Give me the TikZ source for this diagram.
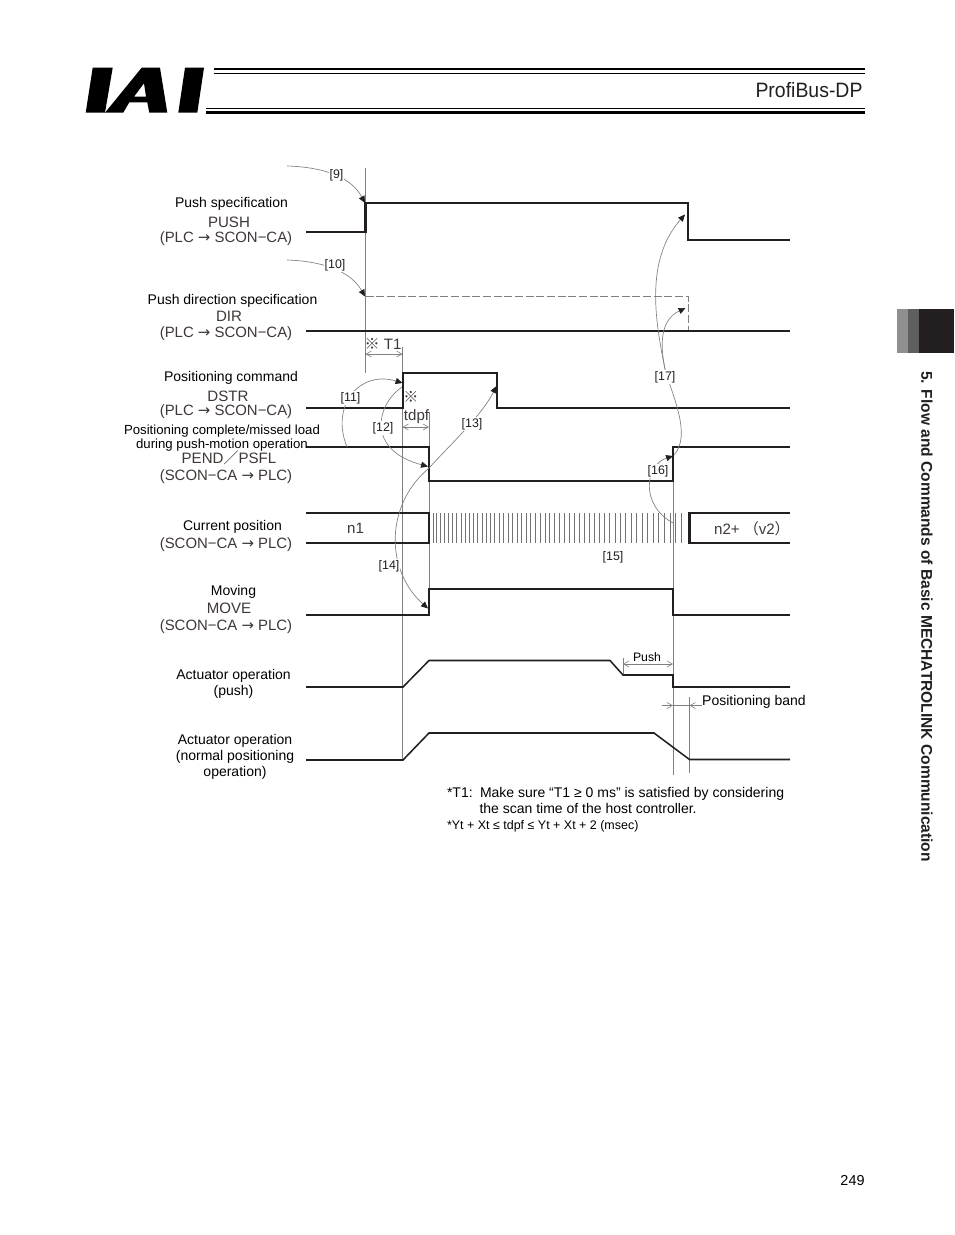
\documentclass[tikz,border=0pt]{standalone}
\usepackage{fontspec}
\setmainfont{Liberation Sans}
\newfontfamily\cjkf{Noto Sans CJK JP}
\newfontfamily\arrowf{DejaVu Sans}
\usetikzlibrary{arrows.meta}
\definecolor{ink}{HTML}{231F20}
\definecolor{sig}{HTML}{3E3836}
\definecolor{guide}{HTML}{808080}
\definecolor{tabone}{HTML}{8F8F8F}
\definecolor{tabtwo}{HTML}{5F5F5F}
\tikzset{
  x=0.75pt,y=-0.75pt,
  every node/.style={inner sep=0pt,outer sep=0pt,align=center,text=black},
  wave/.style={draw=ink,line width=2pt,line join=miter},
  flow/.style={draw=ink,line width=1.15pt,line join=miter},
  guideline/.style={draw=guide,line width=0.65pt},
  hatchline/.style={draw=guide!90!black,line width=0.7pt},
  curve/.style={draw=guide,line width=0.5pt},
  curvetip/.style={curve,-{Triangle[length=5.2pt,width=4.6pt,color=ink]}},
  dim/.style={draw=guide,line width=0.45pt,{Straight Barb[length=4pt,width=4.5pt]}-{Straight Barb[length=4pt,width=4.5pt]}},
  dimin/.style={draw=guide,line width=0.45pt,-{Straight Barb[length=4pt,width=4.5pt]}},
  body/.style={font=\fontsize{10.5}{12}\selectfont,yshift=-0.75pt},
  longbody/.style={font=\fontsize{9.9}{12}\selectfont,yshift=-0.75pt},
  signame/.style={font=\fontsize{11.3}{13}\selectfont,text=sig},
  siglink/.style={font=\fontsize{11.2}{13}\selectfont,text=sig,yshift=-0.75pt},
  tag/.style={font=\fontsize{9.3}{11}\selectfont,text=ink,fill=white,inner sep=0.8pt,yshift=-0.75pt},
  note/.style={font=\fontsize{10.5}{12}\selectfont,anchor=base west},
  small/.style={font=\fontsize{9.35}{11}\selectfont,anchor=base west},
}
\newcommand{\plcscon}{(PLC {\arrowf →} SCON−CA)}
\newcommand{\sconplc}{(SCON−CA {\arrowf →} PLC)}
\begin{document}
\begin{tikzpicture}
\useasboundingbox[fill=white] (0,0) rectangle (954,1235);

% header
\fill[black] (92.7,67.7) -- (112.7,67.7) -- (105,112.7) -- (85.7,112.7) -- cycle;
\fill[black,even odd rule] (105,112.7) -- (141.7,67.7) -- (160,67.7) -- (167.3,112.7) -- (149.3,112.7) -- (147.3,102.3) -- (129.3,102.3) -- (123.3,112.7) -- cycle
   (144,83.3) -- (134,96.7) -- (146,96.7) -- cycle;
\fill[black] (185,67.7) -- (204,67.7) -- (197.3,112.7) -- (178.3,112.7) -- cycle;
\fill[black] (214,67.6) rectangle (865,70.2);
\fill[black] (214,72.6) rectangle (865,73.8);
\fill[black] (206,107.8) rectangle (865,109);
\fill[black] (206,111.2) rectangle (865,114);
\node[anchor=east,xscale=0.935,font=\fontsize{15.6}{18}\selectfont,text=ink] (brand) at (862.5,90.5) {ProfiBus-DP};

% side tab
\fill[tabone] (897,309) rectangle (908,353);
\fill[tabtwo] (908,309) rectangle (919,353);
\fill[ink] (919,309) rectangle (954,353);
\node[rotate=-90,font=\fontsize{11.66}{13}\selectfont\bfseries,text=ink] (side) at (927,616.5) {5. Flow and Commands of Basic MECHATROLINK Communication};

% guide verticals
\draw[guideline] (365.5,168) -- (365.5,373);
\draw[guideline] (402.5,347) -- (402.5,760);
\draw[guideline] (429,412) -- (429,615);
\draw[guideline] (673,481) -- (673,775);
\draw[guideline] (689.5,697) -- (689.5,773);
\draw[guideline] (623,658) -- (623,675);

% dimension lines
\draw[dim] (365.5,354) -- (402.5,354);
\draw[dim] (402.5,427) -- (429,427);
\draw[dim] (623,664) -- (673,664);
\draw[dimin] (662,705.5) -- (673,705.5);
\draw[guideline,line width=0.45pt] (673,705.5) -- (689.5,705.5);
\draw[dimin] (702,705.5) -- (689.5,705.5);

% hatch of current position
\foreach \n in {0,...,52}{
  \pgfmathsetmacro{\hx}{433+513*(exp(0.0076*\n)-1)}
  \draw[hatchline] (\hx,513) -- (\hx,543);
}

% waveforms
\draw[wave] (306,232) -- (365.5,232) -- (365.5,203) -- (688,203) -- (688,240) -- (790,240);
\draw[draw=guide,line width=0.6pt,dash pattern=on 6pt off 2pt] (365.5,296) -- (688,296) -- (688,331);
\draw[wave] (306,331) -- (790,331);
\draw[wave] (306,408) -- (403,408) -- (403,373) -- (497,373) -- (497,408) -- (790,408);
\draw[wave] (306,447) -- (429,447) -- (429,481) -- (673,481) -- (673,447) -- (790,447);
\draw[wave] (306,513) -- (429,513) -- (429,543) -- (306,543);
\draw[wave] (790,513) -- (689.5,513) -- (689.5,543) -- (790,543);
\draw[wave] (306,615) -- (429,615) -- (429,589) -- (673,589) -- (673,615) -- (790,615);
\draw[flow] (306,687) -- (403,687) -- (429,660.5) -- (610,660.5) -- (623,675) -- (673,675) -- (673,687) -- (790,687);
\draw[flow] (306,760) -- (403,760) -- (429,733) -- (654,733) -- (689.5,759.5) -- (790,759.5);

% annotation curve ends
\coordinate (s9) at (287,166);   \coordinate (e9) at (365,203);
\coordinate (s10) at (287,260);  \coordinate (e10) at (365,296.5);
\coordinate (s11) at (347,447);  \coordinate (e11) at (402.5,383);
\coordinate (s12) at (402,387);  \coordinate (e12) at (428,466.5);
\coordinate (s13) at (429,468);  \coordinate (e13) at (496.5,386);
\coordinate (e14) at (428,608.5);
\coordinate (s16) at (673,523);  \coordinate (e16) at (673,456);
\coordinate (s17) at (674,455);  \coordinate (m17) at (665,369);
\coordinate (e17a) at (685,214.5); \coordinate (e17b) at (685.5,308);
\draw[curvetip] (s9) .. controls (320,167) and (350,175) .. (e9);
\draw[curvetip] (s10) .. controls (320,261) and (350,270) .. (e10);
\draw[curvetip] (s11) .. controls (330,405) and (360,370) .. (e11);
\draw[curvetip] (s12) .. controls (376,405) and (366,450) .. (e12);
\draw[curvetip] (s13) .. controls (450,445) and (482,415) .. (e13);
\draw[curvetip] (s13) .. controls (385,505) and (385,570) .. (e14);
\draw[curvetip] (s16) .. controls (640,505) and (645,465) .. (e16);
\draw[curve] (s17) .. controls (692,435) and (672,395) .. (m17);
\draw[curvetip] (m17) .. controls (655,320) and (645,260) .. (e17a);
\draw[curvetip] (m17) .. controls (660,345) and (660,320) .. (e17b);

% tags
\node[tag] (t9) at (336.5,174) {[9]};
\node[tag] (t10) at (335,264) {[10]};
\node[tag] (t11) at (350.5,397) {[11]};
\node[tag] (t12) at (383,427) {[12]};
\node[tag] (t13) at (472,423) {[13]};
\node[tag] (t14) at (389,565) {[14]};
\node[tag] (t15) at (613,556) {[15]};
\node[tag] (t16) at (658,470) {[16]};
\node[tag] (t17) at (665,376) {[17]};

% signal labels
\node[body] (a1) at (231.5,203) {Push specification};
\node[signame] (a2) at (229,222.5) {PUSH};
\node[siglink] (a3) at (226,237.5) {\plcscon};
\node[body] (b1) at (232.5,299.5) {Push direction specification};
\node[signame] (b2) at (229,316) {DIR};
\node[siglink] (b3) at (226,332.5) {\plcscon};
\node[body] (c1) at (231,376.5) {Positioning command};
\node[signame] (c2) at (228,396) {DSTR};
\node[siglink] (c3) at (226,411) {\plcscon};
\node[longbody] (d1) at (222,430) {Positioning complete/missed load};
\node[longbody] (d2) at (222,444) {during push-motion operation};
\node[signame] (d3) at (229,458) {PEND{\cjkf／}PSFL};
\node[siglink] (d4) at (226,475.5) {\sconplc};
\node[body] (e1) at (232.5,525.5) {Current position};
\node[siglink] (e2) at (226,543.5) {\sconplc};
\node[body] (f1) at (233.5,591) {Moving};
\node[signame] (f2) at (229,608.5) {MOVE};
\node[siglink] (f3) at (226,626) {\sconplc};
\node[body] (g1) at (233.5,675) {Actuator operation};
\node[body] (g2) at (233.5,690.5) {(push)};
\node[body] (h1) at (235,739.5) {Actuator operation};
\node[body] (h2) at (235,755.5) {(normal positioning};
\node[body] (h3) at (235,772) {operation)};

% labels on the chart
\node[signame] (n1) at (355.5,528.5) {n1};
\node[signame] (n2) at (752,528.5) {n2+\hspace{3pt}{\cjkf（}v2{\cjkf）}};
\node[signame] (lt1) at (383,343.5) {{\cjkf ※} T1};
\node[signame] (lref) at (411,397) {{\cjkf ※}};
\node[signame] (ltd) at (416.5,416.5) {tdpf};
\node[font=\fontsize{9.2}{11}\selectfont] (lpush) at (647,657) {Push};
\node[body] (lband) at (754,701) {Positioning band};

% notes
\node[note] (w1) at (447,797) {*T1:};
\node[note] (w2) at (480,797) {Make sure “T1 ≥ 0 ms” is satisfied by considering};
\node[note] (w3) at (479.5,813) {the scan time of the host controller.};
\node[small] (w4) at (447,829) {*Yt + Xt ≤ tdpf ≤ Yt + Xt + 2 (msec)};

% page number
\node[font=\fontsize{10.8}{13}\selectfont] (page) at (852.5,1180.5) {249};
\end{tikzpicture}
\end{document}
